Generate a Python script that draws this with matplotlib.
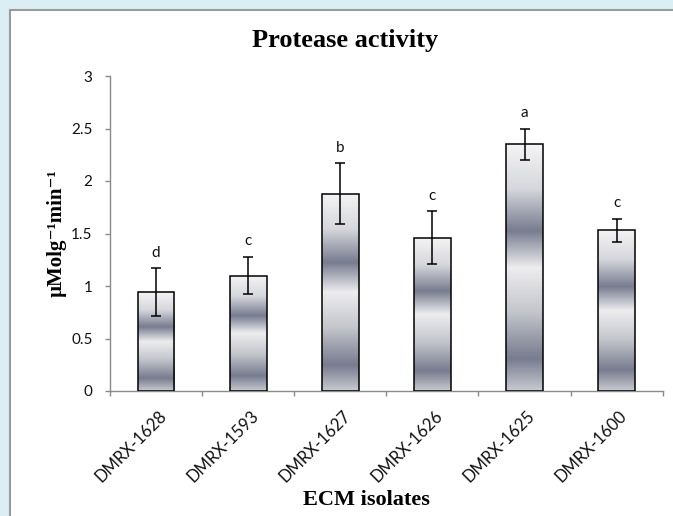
import numpy as np
import matplotlib
matplotlib.use('Agg')
import matplotlib.pyplot as plt
from matplotlib.colors import LinearSegmentedColormap
from matplotlib.patches import Rectangle
from matplotlib.transforms import ScaledTranslation

# ---- data ----
isolates = ['DMRX-1628', 'DMRX-1593', 'DMRX-1627', 'DMRX-1626', 'DMRX-1625', 'DMRX-1600']
activity = [0.94, 1.10, 1.88, 1.46, 2.35, 1.53]
errors = [0.23, 0.18, 0.29, 0.25, 0.15, 0.11]
letters = ['d', 'c', 'b', 'c', 'a', 'c']
yticks = [0, 0.5, 1, 1.5, 2, 2.5, 3]
ytick_labels = ['0', '0.5', '1', '1.5', '2', '2.5', '3']

W, H = 673, 516
fig = plt.figure(figsize=(W / 100, H / 100), dpi=100)
fig.patch.set_facecolor('#DAEEF3')
panel = Rectangle((9.5 / W, -0.1), 1.2, 1 - 9.5 / H + 0.1, transform=fig.transFigure,
                  facecolor='white', edgecolor='#9A9A9A', lw=1.5, zorder=-5)
fig.patches.append(panel)

ax = fig.add_axes([110 / W, 1 - 391 / H, 552.7 / W, 315 / H])
ax.set_zorder(2)
ax.set_facecolor('none')

x = np.arange(len(isolates))
bars = ax.bar(x, activity, width=0.4, facecolor='none', edgecolor='black', lw=1.1, zorder=3)

cmap = LinearSegmentedColormap.from_list('g', [
    (0.0, '#F4F4F5'), (0.18, '#D6D7DC'), (0.35, '#777C8F'), (0.5, '#EDEDEF'),
    (0.68, '#C4C6CC'), (0.87, '#777C8F'), (1.0, '#C8CAD0')])
grad = np.linspace(0, 1, 256).reshape(-1, 1)
for b in bars:
    x0, w, h = b.get_x(), b.get_width(), b.get_height()
    im = ax.imshow(grad, cmap=cmap, aspect='auto', extent=(x0, x0 + w, 0, h),
                   origin='upper', zorder=2, interpolation='bilinear')
    im.set_clip_path(b)

ax.errorbar(x, activity, yerr=errors, fmt='none', ecolor='black', elinewidth=1.1,
            capsize=3.3, capthick=1.1, zorder=4)

for xi, v, e, l in zip(x, activity, errors, letters):
    ax.annotate(l, (xi, v + e), xytext=(0, 8.3), textcoords='offset points',
                ha='center', va='baseline', fontsize=11, family='Lato', color='#111111')

ax.set_xlim(-0.5, len(isolates) - 0.5)
ax.set_ylim(0, 3)
for s in ['top', 'right']:
    ax.spines[s].set_visible(False)
for s in ['left', 'bottom']:
    ax.spines[s].set_color('#8A8A8A')
    ax.spines[s].set_linewidth(1.0)

ax.set_yticks(yticks, ytick_labels)
ax.tick_params(axis='y', length=3.6, color='#8A8A8A', width=1, pad=9,
               labelsize=11, labelcolor='#111111')
for t in ax.get_yticklabels():
    t.set_family('Lato')

ax.set_xticks(np.arange(-0.5, len(isolates), 1))
ax.set_xticklabels([])
ax.tick_params(axis='x', which='major', length=3.6, color='#8A8A8A', width=1)
ax.set_xticks(x, minor=True)
ax.set_xticklabels(isolates, minor=True, rotation=45, ha='right', va='center',
                   rotation_mode='anchor', family='Lato', fontsize=12, color='#111111')
ax.tick_params(axis='x', which='minor', length=0, pad=16)
shift = ScaledTranslation(8 / 100, 0, fig.dpi_scale_trans)
for t in ax.get_xticklabels(minor=True):
    t.set_transform(t.get_transform() + shift)

fig.text(345.5 / W, 1 - 40 / H, 'Protease activity', ha='center', va='center',
         family='Liberation Serif', weight='bold', fontsize=19)
fig.text(366 / W, 1 - 500 / H, 'ECM isolates', ha='center', va='center',
         family='Liberation Serif', weight='bold', fontsize=16)
fig.text(57 / W, 1 - 233 / H, 'µMolg⁻¹min⁻¹', ha='center', va='center', rotation=90,
         family=['Liberation Serif', 'DejaVu Serif'], weight='bold', fontsize=15)

fig.savefig('out.png', dpi=100, facecolor=fig.get_facecolor())
